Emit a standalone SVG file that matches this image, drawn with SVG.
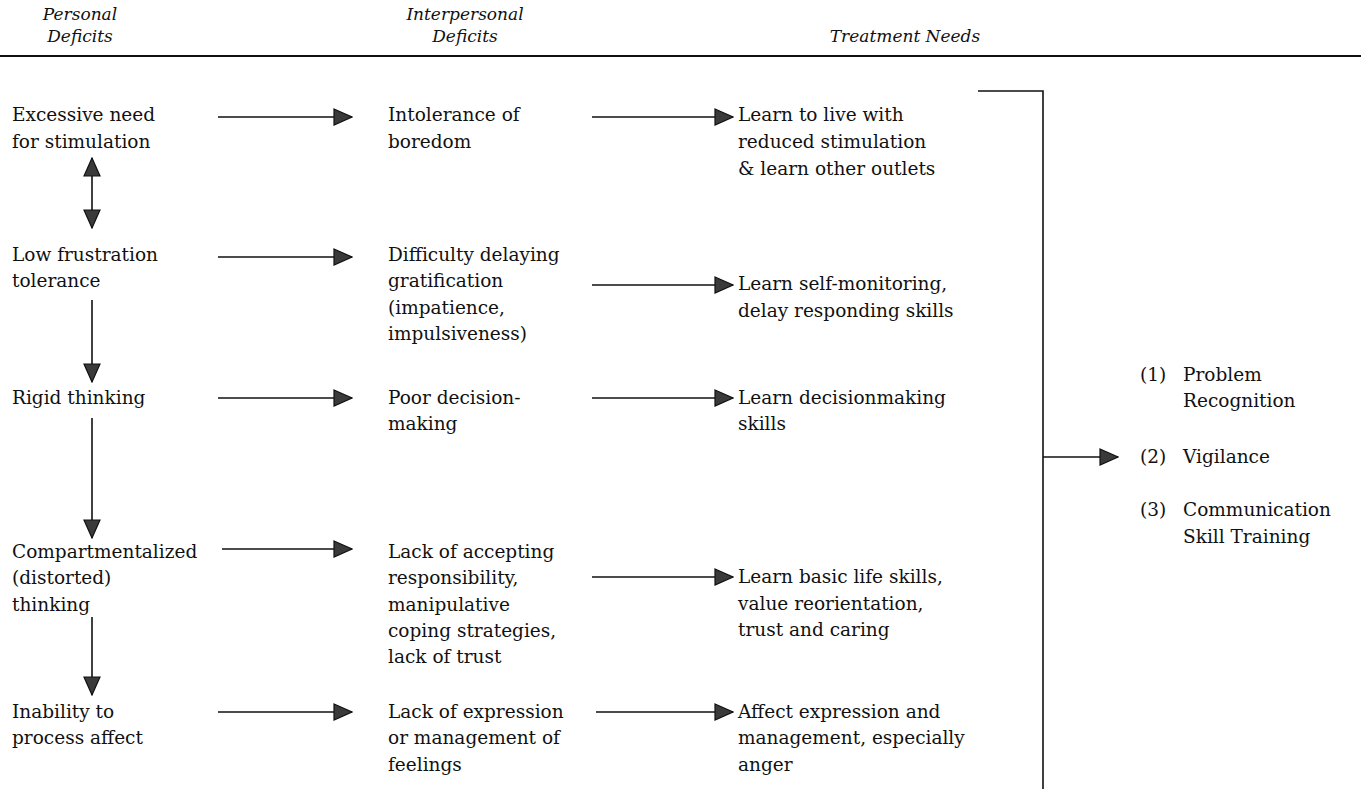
<svg xmlns="http://www.w3.org/2000/svg" width="1361" height="789" viewBox="0 0 1361 789">
<style>
text{font-family:"DejaVu Serif","Liberation Serif",serif;font-size:18.5px;fill:#111}
.h{font-style:italic;text-anchor:middle;font-size:17px}
.ln{stroke:#111;stroke-width:1.6;fill:none}
</style>
<defs>
<marker id="ah" viewBox="0 0 20 18" refX="19" refY="9" markerWidth="20" markerHeight="18" markerUnits="userSpaceOnUse" orient="auto-start-reverse">
<path d="M1,1 L19,9 L1,17 Z" fill="#3a3a3a" stroke="#111" stroke-width="1.2"/>
</marker>
</defs>
<rect width="1361" height="789" fill="#fff"/>
<g id="header">
<text class="h" x="80" y="20">Personal</text>
<text class="h" x="80" y="42">Deficits</text>
<text class="h" x="465" y="20">Interpersonal</text>
<text class="h" x="465" y="42">Deficits</text>
<text class="h" x="905" y="42">Treatment Needs</text>
<line x1="0" y1="56" x2="1361" y2="56" stroke="#111" stroke-width="1.8"/>
</g>
<g id="p1"><text x="12" y="121">Excessive need</text><text x="12" y="148">for stimulation</text></g>
<g id="p2"><text x="12" y="261">Low frustration</text><text x="12" y="287">tolerance</text></g>
<g id="p3"><text x="12" y="404">Rigid thinking</text></g>
<g id="p4"><text x="12" y="558">Compartmentalized</text><text x="12" y="584">(distorted)</text><text x="12" y="611">thinking</text></g>
<g id="p5"><text x="12" y="718">Inability to</text><text x="12" y="744">process affect</text></g>
<g id="i1"><text x="388" y="121">Intolerance of</text><text x="388" y="148">boredom</text></g>
<g id="i2"><text x="388" y="261">Difficulty delaying</text><text x="388" y="287">gratification</text><text x="388" y="314">(impatience,</text><text x="388" y="340">impulsiveness)</text></g>
<g id="i3"><text x="388" y="404">Poor decision-</text><text x="388" y="430">making</text></g>
<g id="i4"><text x="388" y="558">Lack of accepting</text><text x="388" y="584">responsibility,</text><text x="388" y="611">manipulative</text><text x="388" y="637">coping strategies,</text><text x="388" y="663">lack of trust</text></g>
<g id="i5"><text x="388" y="718">Lack of expression</text><text x="388" y="744">or management of</text><text x="388" y="771">feelings</text></g>
<g id="t1"><text x="738" y="121">Learn to live with</text><text x="738" y="148">reduced stimulation</text><text x="738" y="175">&amp; learn other outlets</text></g>
<g id="t2"><text x="738" y="290">Learn self-monitoring,</text><text x="738" y="317">delay responding skills</text></g>
<g id="t3"><text x="738" y="404">Learn decisionmaking</text><text x="738" y="430">skills</text></g>
<g id="t4"><text x="738" y="583">Learn basic life skills,</text><text x="738" y="610">value reorientation,</text><text x="738" y="636">trust and caring</text></g>
<g id="t5"><text x="738" y="718">Affect expression and</text><text x="738" y="744">management, especially</text><text x="738" y="771">anger</text></g>
<g id="outcomes">
<text x="1140" y="381">(1)</text><text x="1183" y="381">Problem</text><text x="1183" y="407">Recognition</text>
<text x="1140" y="463">(2)</text><text x="1183" y="463">Vigilance</text>
<text x="1140" y="516">(3)</text><text x="1183" y="516">Communication</text><text x="1183" y="543">Skill Training</text>
</g>
<g id="connectors">
<line class="ln" x1="92" y1="158" x2="92" y2="228" marker-start="url(#ah)" marker-end="url(#ah)"/>
<line class="ln" x1="92" y1="300" x2="92" y2="382" marker-end="url(#ah)"/>
<line class="ln" x1="92" y1="418" x2="92" y2="538" marker-end="url(#ah)"/>
<line class="ln" x1="92" y1="617" x2="92" y2="695" marker-end="url(#ah)"/>
<line class="ln" x1="218" y1="117" x2="352" y2="117" marker-end="url(#ah)"/>
<line class="ln" x1="218" y1="257" x2="352" y2="257" marker-end="url(#ah)"/>
<line class="ln" x1="218" y1="398" x2="352" y2="398" marker-end="url(#ah)"/>
<line class="ln" x1="222" y1="549" x2="352" y2="549" marker-end="url(#ah)"/>
<line class="ln" x1="218" y1="712" x2="352" y2="712" marker-end="url(#ah)"/>
<line class="ln" x1="592" y1="117" x2="733" y2="117" marker-end="url(#ah)"/>
<line class="ln" x1="592" y1="285" x2="733" y2="285" marker-end="url(#ah)"/>
<line class="ln" x1="592" y1="398" x2="733" y2="398" marker-end="url(#ah)"/>
<line class="ln" x1="592" y1="577" x2="733" y2="577" marker-end="url(#ah)"/>
<line class="ln" x1="596" y1="712" x2="733" y2="712" marker-end="url(#ah)"/>
<polyline class="ln" points="978,91 1043,91 1043,789"/>
<line class="ln" x1="1043" y1="457" x2="1118" y2="457" marker-end="url(#ah)"/>
</g>
</svg>
